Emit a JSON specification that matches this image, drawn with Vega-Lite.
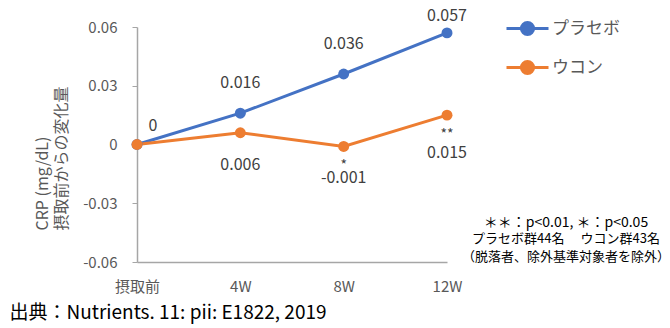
{
  "$schema": "https://vega.github.io/schema/vega-lite/v6.json",
  "width": 310,
  "height": 235,
  "autosize": {"type": "none"},
  "padding": {"left": 137, "top": 27, "right": 223, "bottom": 66},
  "background": "white",
  "config": {
    "view": {"stroke": null},
    "font": "Noto Sans CJK JP",
    "text": {"font": "Noto Sans CJK JP"}
  },
  "title": {
    "text": "＊＊：p<0.01, ＊：p<0.05",
    "subtitle": ["プラセボ群44名　 ウコン群43名", "（脱落者、除外基準対象者を除外）"],
    "orient": "top",
    "anchor": "end",
    "frame": "group",
    "align": "center",
    "dx": 119,
    "dy": 258,
    "offset": 0,
    "font": "Noto Sans CJK JP",
    "fontSize": 14,
    "fontWeight": "normal",
    "color": "#000000",
    "subtitleFont": "Noto Sans CJK JP",
    "subtitleFontSize": 13,
    "subtitleColor": "#000000",
    "subtitleLineHeight": 18,
    "subtitlePadding": 3
  },
  "data": {
    "values": [
      {"time": "摂取前", "group": "プラセボ", "value": 0, "label": "0", "sig": ""},
      {"time": "4W", "group": "プラセボ", "value": 0.016, "label": "0.016", "sig": ""},
      {"time": "8W", "group": "プラセボ", "value": 0.036, "label": "0.036", "sig": ""},
      {"time": "12W", "group": "プラセボ", "value": 0.057, "label": "0.057", "sig": ""},
      {"time": "摂取前", "group": "ウコン", "value": 0, "label": "0", "sig": ""},
      {"time": "4W", "group": "ウコン", "value": 0.006, "label": "0.006", "sig": ""},
      {"time": "8W", "group": "ウコン", "value": -0.001, "label": "-0.001", "sig": "*"},
      {"time": "12W", "group": "ウコン", "value": 0.015, "label": "0.015", "sig": "**"}
    ]
  },
  "encoding": {
    "x": {
      "field": "time",
      "type": "ordinal",
      "sort": ["摂取前", "4W", "8W", "12W"],
      "scale": {"type": "point", "padding": 0},
      "axis": {
        "title": "出典：Nutrients. 11: pii: E1822, 2019",
        "titleX": -128,
        "titleY": 50,
        "titleAlign": "left",
        "titleBaseline": "middle",
        "titleFont": "Noto Sans CJK JP",
        "titleFontSize": 19,
        "titleFontWeight": "normal",
        "titleColor": "#000000",
        "labelAngle": 0,
        "labelFontSize": 15,
        "labelColor": "#595959",
        "labelPadding": 17,
        "ticks": false,
        "domainColor": "#A6A6A6",
        "domainWidth": 1.5,
        "grid": false
      }
    },
    "y": {
      "field": "value",
      "type": "quantitative",
      "scale": {"domain": [-0.06, 0.06], "nice": false},
      "axis": {
        "title": ["CRP (mg/dL)", "摂取前からの変化量"],
        "titleAngle": -90,
        "titleAlign": "left",
        "titleBaseline": "middle",
        "titleX": -95,
        "titleY": 203,
        "titleLineHeight": 19,
        "titleFontSize": 16,
        "titleFontWeight": "normal",
        "titleColor": "#595959",
        "values": [-0.06, -0.03, 0, 0.03, 0.06],
        "labelExpr": "toString(datum.value)",
        "labelFontSize": 15,
        "labelColor": "#595959",
        "labelPadding": 15,
        "tickSize": 5,
        "tickColor": "#A6A6A6",
        "domainColor": "#A6A6A6",
        "domainWidth": 1.5,
        "grid": false
      }
    }
  },
  "layer": [
    {
      "mark": {"type": "line", "strokeWidth": 3, "point": {"filled": true, "size": 120, "opacity": 1}},
      "encoding": {
        "color": {
          "field": "group",
          "type": "nominal",
          "scale": {"domain": ["プラセボ", "ウコン"], "range": ["#4472C4", "#ED7D31"]},
          "legend": {
            "title": null,
            "orient": "none",
            "legendX": 368,
            "legendY": -21,
            "symbolType": "M-1,0H1M-0.29,0A0.29,0.29,0,1,1,0.29,0A0.29,0.29,0,1,1,-0.29,0Z",
            "symbolSize": 1764,
            "symbolStrokeWidth": 3,
            "labelFontSize": 17,
            "labelColor": "#595959",
            "labelOffset": 2,
            "rowPadding": 4,
            "encode": {
              "symbols": {
                "update": {
                  "fill": {"scale": "color", "field": "value"},
                  "stroke": {"scale": "color", "field": "value"},
                  "opacity": {"value": 1}
                }
              }
            }
          }
        }
      }
    },
    {
      "transform": [{"filter": "datum.group == 'プラセボ' && (datum.time == '4W' || datum.time == '8W')"}],
      "mark": {"type": "text", "fontSize": 16, "color": "#404040", "baseline": "middle", "dy": -30},
      "encoding": {"text": {"field": "label"}}
    },
    {
      "transform": [{"filter": "datum.group == 'プラセボ' && datum.time == '12W'"}],
      "mark": {"type": "text", "fontSize": 16, "color": "#404040", "baseline": "middle", "dy": -17},
      "encoding": {"text": {"field": "label"}}
    },
    {
      "transform": [{"filter": "datum.group == 'プラセボ' && datum.time == '摂取前'"}],
      "mark": {"type": "text", "fontSize": 16, "color": "#404040", "baseline": "middle", "dx": 16, "dy": -19},
      "encoding": {"text": {"field": "label"}}
    },
    {
      "transform": [{"filter": "datum.group == 'ウコン' && (datum.time == '4W' || datum.time == '8W')"}],
      "mark": {"type": "text", "fontSize": 16, "color": "#404040", "baseline": "middle", "dy": 32},
      "encoding": {"text": {"field": "label"}}
    },
    {
      "transform": [{"filter": "datum.group == 'ウコン' && datum.time == '12W'"}],
      "mark": {"type": "text", "fontSize": 16, "color": "#404040", "baseline": "middle", "dy": 38},
      "encoding": {"text": {"field": "label"}}
    },
    {
      "transform": [{"filter": "datum.sig != ''"}],
      "mark": {"type": "text", "fontSize": 14, "color": "#404040", "baseline": "middle", "dy": 20},
      "encoding": {"text": {"field": "sig"}}
    }
  ]
}
